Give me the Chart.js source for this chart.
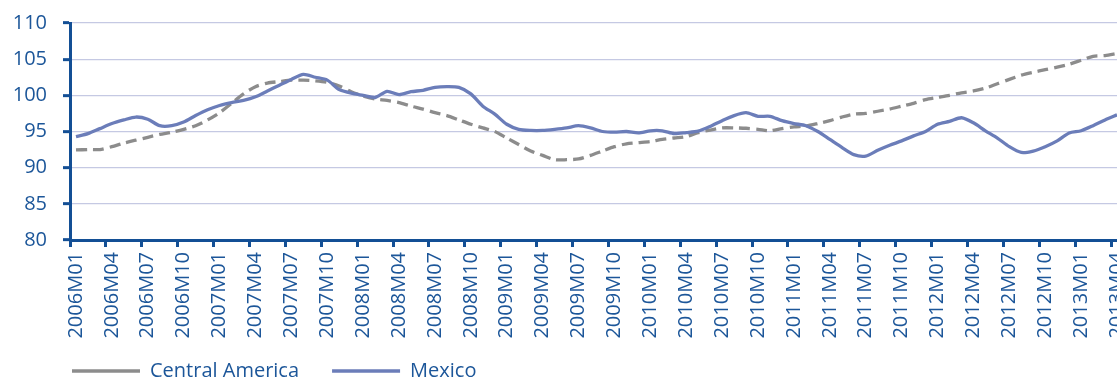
<!DOCTYPE html>
<html><head><meta charset="utf-8">
<script src="https://cdn.jsdelivr.net/npm/chart.js@4/dist/chart.umd.min.js"></script>
<style>html,body{margin:0;padding:0;overflow:hidden;background:#fff}#wrap{width:1126px;height:380px}</style>
</head><body><div id="wrap"><canvas id="c" width="1126" height="380"></canvas></div>
<script>
// Categories: monthly 2006M01 .. 2013M04
const months = [];
for (let y = 2006; y <= 2013; y++) {
  for (let m = 1; m <= 12; m++) {
    if (y === 2013 && m > 4) break;
    months.push(y + 'M' + String(m).padStart(2, '0'));
  }
}
const centralAmerica = [
  92.45, 92.5, 92.5, 92.9, 93.4, 93.8, 94.2, 94.6, 94.9, 95.3, 95.8, 96.6,
  97.6, 98.9, 100.2, 101.2, 101.7, 101.9, 102.1, 102.1, 102.0, 101.8, 101.3, 100.5,
  99.9, 99.5, 99.3, 99.0, 98.5, 98.1, 97.6, 97.2, 96.6, 96.0, 95.5, 95.0,
  94.1, 93.2, 92.3, 91.7, 91.1, 91.1, 91.2, 91.7, 92.3, 92.9, 93.3, 93.45,
  93.6, 93.9, 94.1, 94.3, 94.85, 95.2, 95.5, 95.5, 95.45, 95.3, 95.1, 95.4,
  95.65, 95.75, 96.1, 96.5, 97.0, 97.4, 97.5, 97.8, 98.1, 98.5, 98.9, 99.4,
  99.7, 100.0, 100.35, 100.6, 101.0, 101.6, 102.2, 102.8, 103.2, 103.55, 103.9, 104.3,
  104.85, 105.4, 105.5, 105.8
];
const mexico = [
  94.3, 94.7, 95.4, 96.1, 96.6, 97.0, 96.7, 95.8, 95.8, 96.3, 97.2, 98.0,
  98.6, 99.0, 99.3, 99.8, 100.6, 101.4, 102.2, 102.9, 102.5, 102.1, 100.8, 100.3,
  100.0, 99.7, 100.55, 100.1, 100.5, 100.7, 101.1, 101.2, 101.1, 100.2, 98.5, 97.4,
  96.0, 95.3, 95.15, 95.15, 95.3, 95.5, 95.8, 95.5, 95.0, 94.9, 95.0, 94.8,
  95.1, 95.1, 94.7, 94.85, 95.05, 95.7, 96.5, 97.2, 97.6, 97.1, 97.1, 96.5,
  96.1, 95.8, 95.0, 93.9, 92.8, 91.8, 91.6, 92.4, 93.1, 93.7, 94.4, 95.0,
  96.0, 96.4, 96.9, 96.2, 95.1, 94.1, 92.9, 92.1, 92.3, 92.9, 93.7, 94.8,
  95.1, 95.8, 96.6, 97.3
];
const yMin = 80, yMax = 110, yStep = 5;

const AXIS = '#134f95', TEXT = '#1c5699', GRID = '#c5c9e3';
const FONT = {family: "'Open Sans', 'Noto Sans', sans-serif", size: 20};

// Place the legend row and let x labels draw below the axis box.
const placeLegend = {
  id: 'placeLegend',
  afterLayout(chart) {
    const lg = chart.legend;
    if (lg) {
      const dy = 328 - lg.top; lg.top += dy; lg.bottom += dy;
      const dx = 39 - lg.left; lg.left += dx; lg.right += dx;
    }
    const xs = chart.scales.x;
    if (xs) xs.bottom = chart.height;
  }
};

new Chart(document.getElementById('c'), {
  type: 'line',
  data: {
    labels: months,
    datasets: [
      {label: 'Mexico', data: mexico, borderColor: '#6b7db9', backgroundColor: '#6b7db9',
       borderWidth: 3.3, pointRadius: 0, pointStyle: 'line', tension: 0.25, fill: false},
      {label: 'Central America', data: centralAmerica, borderColor: '#8c8c8c', backgroundColor: '#8c8c8c',
       borderWidth: 3.3, borderDash: [11, 6], pointRadius: 0, pointStyle: 'line', tension: 0.25, fill: false}
    ]
  },
  plugins: [placeLegend],
  options: {
    responsive: false, animation: false, devicePixelRatio: 1,
    layout: {padding: {left: 0, right: 3, top: 23, bottom: 0}},
    plugins: {
      legend: {
        position: 'bottom', align: 'start', reverse: true,
        labels: {usePointStyle: true, pointStyleWidth: 68, padding: 33, color: TEXT, font: FONT}
      },
      tooltip: {enabled: false}
    },
    scales: {
      x: {
        offset: true,
        grid: {offset: true, drawOnChartArea: false, drawTicks: true, tickLength: 7, tickWidth: 3,
               tickColor: (c) => (c.index % 3 === 0 ? AXIS : 'rgba(0,0,0,0)')},
        border: {color: AXIS, width: 3},
        ticks: {autoSkip: false, maxRotation: 90, minRotation: 90, padding: 5, color: TEXT, font: FONT,
                callback: (v, i) => (i % 3 === 0 ? months[i] : '')},
        afterFit: (s) => { s.height = 77; s.paddingLeft = 0; s.paddingRight = 0; }
      },
      y: {
        min: yMin, max: yMax,
        grid: {color: GRID, lineWidth: 1.3, tickLength: 7, tickWidth: 3, tickColor: AXIS},
        border: {color: AXIS, width: 3},
        ticks: {stepSize: yStep, padding: 16, color: TEXT, font: FONT},
        afterFit: (s) => { s.width = 70; s.paddingTop = 0; s.paddingBottom = 0; }
      }
    }
  }
});
</script>
</body></html>
